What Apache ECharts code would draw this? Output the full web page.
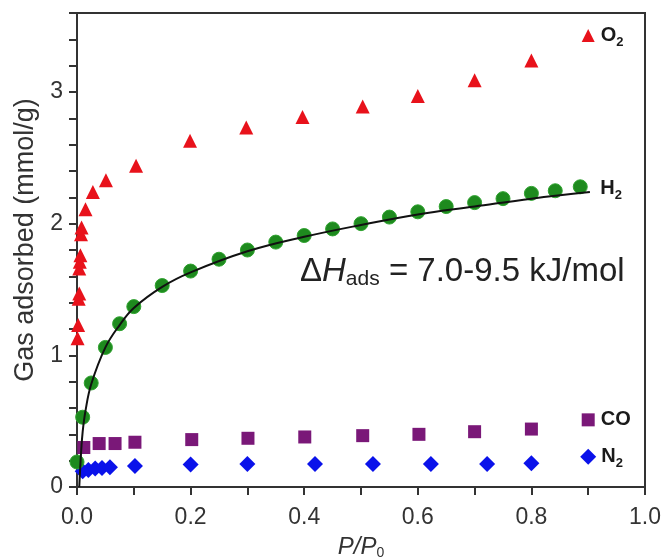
<!DOCTYPE html>
<html>
<head>
<meta charset="utf-8">
<script src="https://cdn.jsdelivr.net/npm/echarts@6/dist/echarts.min.js"></script>
<style>
html,body{margin:0;padding:0;background:#fff;}
#chart{width:665px;height:558px;}
</style>
</head>
<body>
<div id="chart"></div>
<script>
// ---- data ----
const o2X = [0.001,0.002,0.003,0.004,0.004,0.005,0.006,0.007,0.008,0.015,0.028,0.051,0.104,0.199,0.298,0.397,0.503,0.600,0.700,0.800];
const o2Y = [1.13,1.23,1.43,1.47,1.66,1.71,1.76,1.92,1.97,2.11,2.24,2.33,2.44,2.63,2.73,2.81,2.89,2.97,3.09,3.24];

const h2X = [0.000,0.010,0.025,0.050,0.075,0.100,0.150,0.200,0.250,0.300,0.350,0.400,0.450,0.500,0.550,0.600,0.650,0.700,0.750,0.800,0.842,0.886];
const h2Y = [0.19,0.53,0.79,1.06,1.24,1.37,1.53,1.64,1.73,1.80,1.86,1.91,1.96,2.00,2.05,2.09,2.13,2.16,2.19,2.23,2.25,2.28];

const fitX = [0.004,0.007,0.010,0.015,0.025,0.050,0.075,0.100,0.150,0.200,0.300,0.400,0.500,0.600,0.700,0.800,0.903];
const fitY = [0.00,0.25,0.42,0.58,0.78,1.06,1.23,1.36,1.52,1.63,1.79,1.90,1.99,2.07,2.13,2.19,2.24];

const coX = [0.012,0.039,0.067,0.102,0.202,0.301,0.401,0.503,0.602,0.700,0.800];
const coY = [0.30,0.33,0.33,0.34,0.36,0.37,0.38,0.39,0.40,0.42,0.44];

const n2X = [0.010,0.020,0.032,0.044,0.058,0.102,0.200,0.300,0.419,0.521,0.623,0.722,0.800];
const n2Y = [0.12,0.13,0.14,0.145,0.15,0.16,0.17,0.175,0.175,0.175,0.175,0.175,0.18];

// series name tags (drawn at these data coordinates)
const tagX = 0.9;
const o2TagY = 3.43, h2TagY = 2.27, coTagY = 0.51, n2TagY = 0.23;

const zip = (xs, ys) => xs.map((x, i) => [x, ys[i]]);

const tagRich = {
  b: { fontFamily: 'Liberation Sans, Arial', fontWeight: 'bold', fontSize: 20, color: '#1a1a1a' },
  s: { fontFamily: 'Liberation Sans, Arial', fontWeight: 'bold', fontSize: 13, color: '#1a1a1a', padding: [14, 0, 0, 0] }
};
function tag(coord, symbol, size, color, text, dist) {
  return {
    symbol: 'none',
    data: [{
      coord: coord, symbol: symbol, symbolSize: size,
      itemStyle: { color: color },
      label: { show: true, position: 'right', distance: dist, formatter: text, rich: tagRich }
    }],
    animation: false
  };
}

const chart = echarts.init(document.getElementById('chart'), null, { renderer: 'canvas' });
const axisFont = { fontFamily: 'Liberation Sans, Arial', fontSize: 23, color: '#333' };

chart.setOption({
  animation: false,
  backgroundColor: '#fff',
  grid: { left: 77, right: 20, top: 13, bottom: 71, containLabel: false, outerBoundsMode: 'none',
          show: true, borderColor: '#333', borderWidth: 2, backgroundColor: 'transparent' },
  xAxis: {
    type: 'value', min: 0, max: 1, interval: 0.1,
    axisLine: { show: true, onZero: false, lineStyle: { color: '#333', width: 2 } },
    axisTick: { show: true, inside: false, length: 8, lineStyle: { color: '#333', width: 2 } },
    splitLine: { show: false },
    axisLabel: Object.assign({ margin: 19, formatter: v => {
      const k = Math.round(v * 10);
      return (k % 2 === 0) ? (k / 10).toFixed(1) : '';
    } }, axisFont),
    name: '{i|P/P}{s|0}', nameLocation: 'middle', nameGap: 47,
    nameTextStyle: { rich: {
      i: { fontFamily: 'Liberation Sans, Arial', fontStyle: 'italic', fontSize: 24, color: '#333' },
      s: { fontFamily: 'Liberation Sans, Arial', fontSize: 14, color: '#333', padding: [12, 0, 0, 0] }
    } }
  },
  yAxis: {
    type: 'value', min: 0, max: 3.6, interval: 0.2,
    axisLine: { show: true, onZero: false, lineStyle: { color: '#333', width: 2 } },
    axisTick: { show: true, inside: false, length: 8, lineStyle: { color: '#333', width: 2 } },
    splitLine: { show: false },
    axisLabel: Object.assign({ margin: 14, formatter: v => {
      const r = Math.round(v);
      return Math.abs(v - r) < 1e-6 ? String(r) : '';
    } }, axisFont),
    name: 'Gas adsorbed (mmol/g)', nameLocation: 'middle', nameGap: 38,
    nameTextStyle: { fontFamily: 'Liberation Sans, Arial', fontSize: 27, color: '#333', padding: [0, 0, 0, 20] }
  },
  graphic: [{
    type: 'text', left: 300, top: 255, z: 10,
    style: {
      text: '{n|Δ}{i|H}{s|ads}{n| = 7.0-9.5 kJ/mol}',
      rich: {
        n: { fontFamily: 'Liberation Sans, Arial', fontSize: 33, fill: '#222', color: '#222' },
        i: { fontFamily: 'Liberation Sans, Arial', fontSize: 33, fontStyle: 'italic', fill: '#222', color: '#222' },
        s: { fontFamily: 'Liberation Sans, Arial', fontSize: 21, fill: '#222', color: '#222', padding: [16, 0, 0, 0] }
      }
    }
  }],
  series: [
    {
      name: 'O2', type: 'scatter', symbol: 'triangle', symbolSize: 14, clip: false,
      itemStyle: { color: '#e8121b', opacity: 1 },
      data: zip(o2X, o2Y),
      markPoint: tag([tagX, o2TagY], 'triangle', 13, '#e8121b', '{b|O}{s|2}', 6)
    },
    {
      name: 'CO', type: 'scatter', symbol: 'rect', symbolSize: 13, clip: false,
      itemStyle: { color: '#7a1878', opacity: 1 },
      data: zip(coX, coY),
      markPoint: tag([tagX, coTagY], 'rect', 13, '#7a1878', '{b|CO}', 6)
    },
    {
      name: 'N2', type: 'scatter', symbol: 'diamond', symbolSize: 16, clip: false,
      itemStyle: { color: '#0a12ea', opacity: 1 },
      data: zip(n2X, n2Y),
      markPoint: tag([tagX, n2TagY], 'diamond', 16, '#0a12ea', '{b|N}{s|2}', 5)
    },
    {
      name: 'H2', type: 'scatter', symbol: 'circle', symbolSize: 14, clip: false,
      itemStyle: { color: '#1e8a1e', borderColor: '#2fa32f', borderWidth: 1, opacity: 1 },
      data: zip(h2X, h2Y)
    },
    {
      name: 'H2 fit', type: 'line', smooth: 0.4, showSymbol: false, symbol: 'none', z: 5,
      lineStyle: { color: '#111', width: 2 },
      data: zip(fitX, fitY),
      markPoint: tag([tagX, h2TagY], 'circle', 0, '#000', '{b|H}{s|2}', 12)
    }
  ]
});
</script>
</body>
</html>
